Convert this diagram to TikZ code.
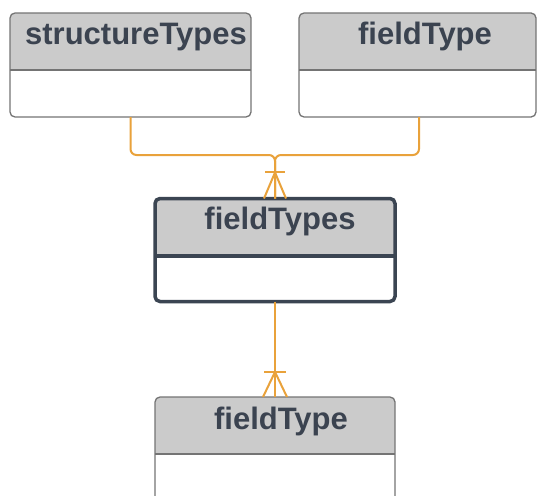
\documentclass[tikz,border=0pt]{standalone}
\usepackage{fontspec}
\setmainfont{Liberation Sans}
\usetikzlibrary{calc}
\definecolor{hdr}{HTML}{CBCBCB}
\definecolor{txt}{HTML}{3B4350}
\definecolor{edgegray}{HTML}{747474}
\definecolor{darkedge}{HTML}{3B4552}
\definecolor{rel}{HTML}{E9A23B}
\newcommand\erbox[6]{%
  \node[boxshape, minimum width=#3, minimum height=#4] (#1) at #2 {};
  \begin{scope}
    \clip[rounded corners=5pt] (#1.north west) rectangle (#1.south east);
    \fill[hdr] (#1.north west) rectangle ($(#1.north east)+(0,#5)$);
  \end{scope}
  \draw[#6] ($(#1.north west)+(0,#5)$) -- ($(#1.north east)+(0,#5)$);
  \draw[#6, rounded corners=5pt] (#1.north west) rectangle (#1.south east);
}
\begin{document}
\begin{tikzpicture}[x=1pt,y=-1pt,
  boxshape/.style={draw=none, fill=white, rounded corners=5pt, inner sep=0pt, outer sep=0pt},
  thinborder/.style={draw=edgegray, line width=1.3pt},
  thickborder/.style={draw=darkedge, line width=3.5pt},
  title/.style={font=\bfseries\fontsize{31}{36}\selectfont, text=txt, inner sep=0pt, anchor=base},
  relline/.style={draw=rel, line width=2pt},
  crow/.style={draw=rel, line width=2pt}]
\clip (0,0) rectangle (537,495);
\fill[white] (0,0) rectangle (537,495);
% entities
\erbox{st}{(130.5,65)}{241pt}{104pt}{57}{thinborder}
\erbox{fta}{(417.5,65)}{237pt}{104pt}{57}{thinborder}
\erbox{fts}{(275,250)}{240pt}{103pt}{57.5}{thickborder}
\erbox{ftb}{(275,457)}{240pt}{120pt}{57}{thinborder}
% titles
\node[title] (stt) at (136,45) {structureTypes};
\node[title] (ftat) at (425,45) {fieldType};
\node[title] (ftst) at (280,229) {fieldTypes};
\node[title] (ftbt) at (281,429) {fieldType};
% connectors
\coordinate (j) at (275,155);
\draw[relline, rounded corners=6pt] (st.south) |- (j) -- (fts.north);
\draw[relline, rounded corners=6pt] ([xshift=1.5pt]fta.south) |- (j) -- (fts.north);
\draw[relline] (fts.south) -- (ftb.north);
% crow's feet (many)
\draw[crow] ($(fts.north)+(-10,-27)$) -- ($(fts.north)+(10,-27)$);
\draw[crow] ($(fts.north)+(-11,0)$) -- ($(fts.north)+(0,-26)$) -- ($(fts.north)+(11,0)$);
\draw[crow] ($(ftb.north)+(-11,-25)$) -- ($(ftb.north)+(11,-25)$);
\draw[crow] ($(ftb.north)+(-12,0)$) -- ($(ftb.north)+(0,-25)$) -- ($(ftb.north)+(12,0)$);
\end{tikzpicture}
\end{document}
